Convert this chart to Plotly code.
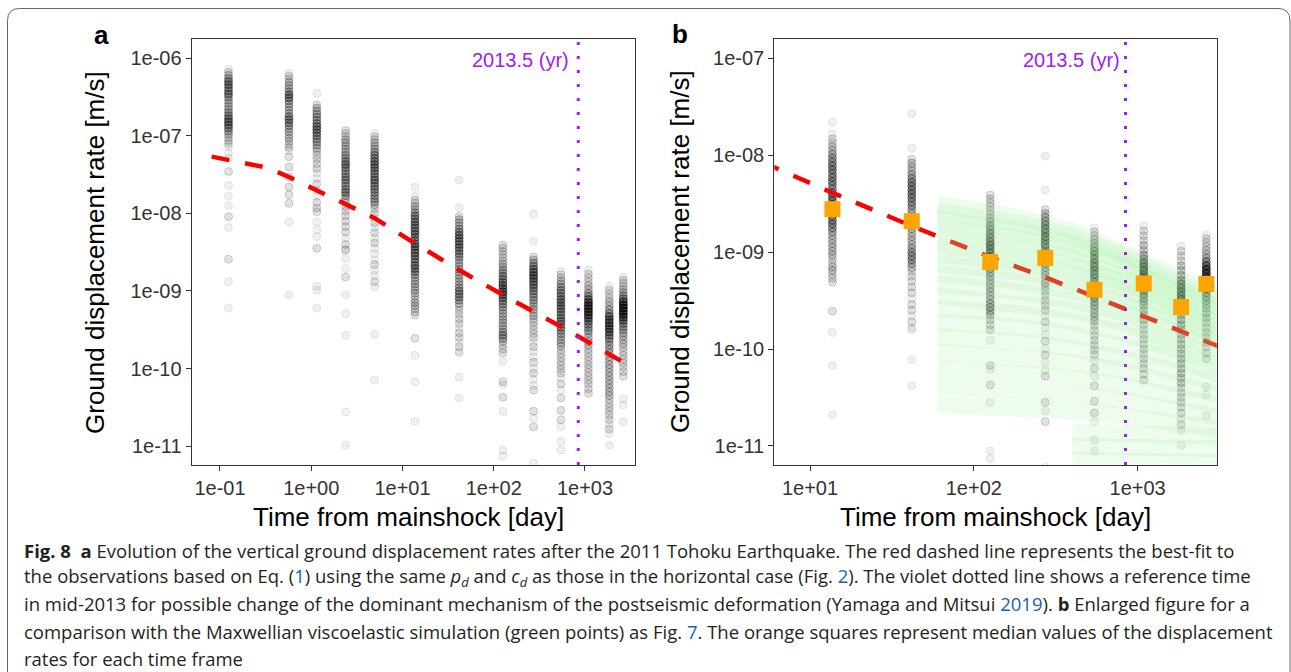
import math
import plotly.graph_objects as go

# ---------------- data ----------------
# time frames (days after mainshock) of the observation columns
col_times = [0.124, 0.57, 1.15, 2.38, 4.95, 13.7, 41.8, 126, 273, 545, 1090, 1845, 2628]

# each column: log10 rate levels [m/s] and how many stations overlap there
c01_log = [-6.14,-6.18,-6.22,-6.26,-6.30,-6.34,-6.38,-6.42,-6.46,-6.50,-6.54,-6.58,-6.62,-6.66,-6.70,-6.74,-6.78,-6.82,-6.86,-6.90,-6.94,-6.98,-7.02,-7.06,-7.10,-7.14,-7.22,-7.29,-7.46,-7.64,-7.78,-7.90,-8.04,-8.18,-8.59,-8.88,-9.22]
c01_n   = [1,2,3,4,6,6,5,5,6,4,3,3,3,3,4,5,6,7,6,5,4,3,2,2,2,1,1,1,2,1,1,1,2,1,2,1,1]
c02_log = [-6.19,-6.23,-6.27,-6.31,-6.35,-6.39,-6.43,-6.47,-6.51,-6.55,-6.59,-6.63,-6.67,-6.71,-6.75,-6.79,-6.83,-6.87,-6.91,-6.95,-6.99,-7.03,-7.07,-7.11,-7.15,-7.19,-7.27,-7.40,-7.53,-7.66,-7.76,-7.87,-8.11,-9.05]
c02_n   = [1,2,2,3,3,3,4,6,6,4,3,3,3,3,5,6,5,4,3,3,2,3,2,2,2,1,2,2,2,2,2,2,1,1]
c03_log = [-6.45,-6.60,-6.64,-6.68,-6.72,-6.76,-6.80,-6.84,-6.88,-6.92,-6.96,-7.00,-7.04,-7.08,-7.12,-7.16,-7.20,-7.25,-7.30,-7.36,-7.42,-7.48,-7.55,-7.62,-7.70,-7.78,-7.86,-7.93,-7.98,-8.11,-8.21,-8.30,-8.45,-8.94,-8.99,-9.22]
c03_n   = [1,2,3,3,4,4,4,5,6,6,5,5,4,4,3,3,2,2,2,2,2,1,1,2,1,1,2,2,2,1,1,1,2,1,1,1]
c04_log = [-6.93,-6.97,-7.01,-7.05,-7.09,-7.13,-7.17,-7.21,-7.25,-7.29,-7.33,-7.37,-7.41,-7.45,-7.49,-7.53,-7.57,-7.61,-7.65,-7.69,-7.73,-7.77,-7.81,-7.86,-7.91,-7.97,-8.03,-8.10,-8.17,-8.24,-8.32,-8.40,-8.47,-8.58,-8.71,-8.82,-9.05,-9.29,-9.57,-10.56,-10.99]
c04_n   = [2,2,2,3,3,3,3,3,4,4,5,6,5,4,4,5,5,4,4,5,5,4,3,2,2,2,2,2,2,2,1,2,3,1,1,2,1,1,1,1,1]
c05_log = [-6.97,-7.01,-7.05,-7.09,-7.13,-7.17,-7.21,-7.25,-7.29,-7.33,-7.37,-7.41,-7.45,-7.49,-7.53,-7.57,-7.61,-7.65,-7.69,-7.73,-7.77,-7.81,-7.85,-7.89,-7.94,-8.00,-8.06,-8.12,-8.18,-8.25,-8.32,-8.38,-8.45,-8.52,-8.60,-8.66,-8.73,-8.80,-8.88,-8.95,-9.56,-10.15]
c05_n   = [1,2,2,3,3,3,4,5,5,6,6,6,5,5,5,6,5,5,5,4,4,4,4,3,2,2,1,2,1,2,1,2,1,1,1,2,1,1,2,1,1,1]
c06_log = [-7.66,-7.78,-7.83,-7.87,-7.91,-7.95,-7.99,-8.03,-8.07,-8.11,-8.15,-8.19,-8.23,-8.27,-8.31,-8.35,-8.39,-8.43,-8.47,-8.51,-8.55,-8.59,-8.63,-8.67,-8.71,-8.75,-8.79,-8.83,-8.87,-8.91,-8.95,-8.99,-9.03,-9.07,-9.11,-9.15,-9.19,-9.23,-9.27,-9.31,-9.61,-9.83,-10.17,-10.68]
c06_n   = [1,1,2,2,3,3,4,5,5,6,6,5,6,6,5,5,6,7,6,6,6,5,5,6,6,5,4,3,3,3,3,3,3,2,2,3,3,2,2,2,2,1,1,1]
c07_log = [-7.57,-7.93,-8.04,-8.08,-8.12,-8.16,-8.20,-8.24,-8.28,-8.32,-8.36,-8.40,-8.44,-8.48,-8.52,-8.56,-8.60,-8.64,-8.68,-8.72,-8.76,-8.80,-8.84,-8.88,-8.92,-8.96,-9.00,-9.04,-9.08,-9.12,-9.16,-9.20,-9.25,-9.30,-9.36,-9.42,-9.48,-9.54,-9.60,-9.66,-9.72,-9.78,-9.80,-10.11,-10.38]
c07_n   = [1,1,2,3,3,3,4,5,6,6,6,6,6,5,5,4,3,3,3,3,3,3,3,3,3,4,5,5,5,4,3,2,2,2,2,2,1,2,2,1,2,1,1,1,1]
c08_log = [-8.41,-8.45,-8.49,-8.53,-8.57,-8.61,-8.65,-8.69,-8.73,-8.77,-8.81,-8.85,-8.89,-8.93,-8.97,-9.01,-9.05,-9.09,-9.13,-9.17,-9.21,-9.25,-9.29,-9.33,-9.37,-9.41,-9.45,-9.49,-9.53,-9.57,-9.61,-9.65,-9.70,-9.75,-9.80,-9.91,-10.17,-10.21,-10.37,-10.55,-11.05,-11.13]
c08_n   = [2,2,2,2,2,2,3,3,4,4,5,5,6,7,7,7,7,6,5,4,4,3,3,3,3,3,3,3,4,5,4,3,2,2,2,1,2,1,2,1,1,1]
c09_log = [-8.01,-8.36,-8.56,-8.60,-8.64,-8.68,-8.72,-8.76,-8.80,-8.84,-8.88,-8.92,-8.96,-9.00,-9.04,-9.08,-9.12,-9.16,-9.20,-9.24,-9.28,-9.32,-9.36,-9.40,-9.45,-9.50,-9.55,-9.60,-9.66,-9.72,-9.78,-9.85,-9.92,-10.00,-10.06,-10.14,-10.22,-10.28,-10.55,-10.64,-10.75,-11.22]
c09_n   = [1,1,2,3,4,5,6,7,7,7,6,6,5,5,4,4,4,3,3,3,2,3,2,2,2,2,2,2,1,2,1,1,2,1,2,1,1,2,2,1,2,1]
c10_log = [-8.75,-8.79,-8.83,-8.87,-8.91,-8.95,-8.99,-9.03,-9.07,-9.11,-9.15,-9.19,-9.23,-9.27,-9.31,-9.35,-9.39,-9.43,-9.47,-9.51,-9.55,-9.59,-9.63,-9.67,-9.71,-9.76,-9.81,-9.86,-9.91,-9.96,-10.01,-10.06,-10.12,-10.20,-10.28,-10.38,-10.54,-10.66,-10.75,-10.94,-11.05]
c10_n   = [1,2,2,3,3,4,5,5,5,6,6,6,6,5,5,5,6,5,5,4,4,3,3,3,3,2,2,2,2,2,2,2,1,2,1,2,2,2,1,1,1]
c11_log = [-8.73,-8.78,-8.83,-8.88,-8.93,-8.98,-9.03,-9.07,-9.11,-9.15,-9.19,-9.23,-9.27,-9.31,-9.35,-9.39,-9.43,-9.47,-9.51,-9.55,-9.60,-9.65,-9.70,-9.75,-9.80,-9.85,-9.90,-9.95,-10.00,-10.05,-10.10,-10.15,-10.20,-10.26,-10.32]
c11_n   = [1,2,2,2,3,3,4,5,7,9,10,10,10,9,8,6,5,4,4,3,3,3,3,2,2,2,2,2,2,2,2,2,2,2,2]
c12_log = [-8.94,-8.99,-9.04,-9.09,-9.14,-9.19,-9.24,-9.29,-9.33,-9.37,-9.41,-9.45,-9.49,-9.53,-9.57,-9.61,-9.65,-9.70,-9.75,-9.80,-9.85,-9.90,-9.95,-10.00,-10.05,-10.10,-10.15,-10.20,-10.25,-10.30,-10.35,-10.40,-10.45,-10.50,-10.55,-10.60,-10.66,-10.72,-10.78,-10.84,-10.99]
c12_n   = [1,2,2,2,3,3,4,5,7,8,8,8,8,7,6,5,4,4,4,3,3,3,3,3,3,3,3,3,3,3,3,2,2,2,2,2,2,1,2,1,1]
c13_log = [-8.82,-8.86,-8.90,-8.94,-8.98,-9.02,-9.06,-9.10,-9.14,-9.18,-9.22,-9.26,-9.30,-9.34,-9.38,-9.42,-9.46,-9.50,-9.54,-9.58,-9.63,-9.68,-9.73,-9.78,-9.83,-9.88,-9.93,-9.98,-10.04,-10.10,-10.39,-10.47,-10.69]
c13_n   = [1,2,2,2,3,3,4,6,9,11,11,11,10,9,7,5,4,4,3,3,3,3,2,2,2,2,2,2,2,2,1,1,1]

# median of each time frame (orange squares, panel b)
med_times = [13.7, 41.8, 126, 273, 545, 1090, 1845, 2628]
med_rates = [2.77e-9, 2.09e-9, 7.9e-10, 8.7e-10, 4.1e-10, 4.75e-10, 2.72e-10, 4.68e-10]

# best-fit curve (red dashed)
fit_t     = [0.081, 0.325, 0.57, 1.15, 2.38, 4.95, 13.7, 41.8, 126, 273, 545, 1090, 3450]
fit_rates = [5.4e-8, 3.9e-8, 2.95e-8, 2.0e-8, 1.29e-8, 8.7e-9, 4.1e-9, 1.86e-9, 8.9e-10, 5.5e-10, 3.47e-10, 2.19e-10, 1.0e-10]

# Maxwellian viscoelastic simulation (green), log10 rate of sample curves
sim_t = [60, 100, 200, 400, 800, 1500, 3100]
g01 = [-8.50, -8.55, -8.65, -8.78, -8.98, -9.20, -9.45]
g02 = [-8.58, -8.62, -8.71, -8.84, -9.03, -9.25, -9.51]
g03 = [-8.66, -8.70, -8.78, -8.91, -9.09, -9.31, -9.57]
g04 = [-8.75, -8.79, -8.86, -8.98, -9.16, -9.37, -9.63]
g05 = [-8.84, -8.88, -8.95, -9.06, -9.23, -9.43, -9.69]
g06 = [-8.93, -8.97, -9.04, -9.14, -9.30, -9.50, -9.75]
g07 = [-9.02, -9.06, -9.12, -9.22, -9.37, -9.56, -9.81]
g08 = [-9.12, -9.15, -9.21, -9.31, -9.45, -9.63, -9.87]
g09 = [-9.22, -9.25, -9.31, -9.40, -9.53, -9.71, -9.94]
g10 = [-9.33, -9.36, -9.41, -9.50, -9.62, -9.79, -10.01]
g11 = [-9.45, -9.48, -9.52, -9.60, -9.72, -9.88, -10.09]
g12 = [-9.58, -9.60, -9.64, -9.72, -9.83, -9.98, -10.17]
g13 = [-9.72, -9.74, -9.78, -9.85, -9.95, -10.08, -10.26]
g14 = [-9.87, -9.89, -9.93, -9.99, -10.08, -10.20, -10.36]
g15 = [-10.03, -10.05, -10.08, -10.14, -10.22, -10.33, -10.47]
g16 = [-10.20, -10.22, -10.25, -10.30, -10.37, -10.46, -10.58]
g17 = [-10.38, -10.40, -10.42, -10.47, -10.53, -10.60, -10.70]
g18 = [-10.57, -10.58, -10.60, -10.64, -10.69, -10.75, -10.82]
g19 = [None, None, None, -10.86, -10.87, -10.88, -10.90]
g20 = [None, None, None, -11.00, -11.01, -11.02, -11.03]
g21 = [None, None, None, -11.15, -11.15, -11.16, -11.17]

ref_day = 844          # 2013.5 (yr)
ytick_a = [1e-6, 1e-7, 1e-8, 1e-9, 1e-10, 1e-11]
ytick_a_txt = ["1e-06", "1e-07", "1e-08", "1e-09", "1e-10", "1e-11"]
ytick_b = [1e-7, 1e-8, 1e-9, 1e-10, 1e-11]
ytick_b_txt = ["1e-07", "1e-08", "1e-09", "1e-10", "1e-11"]
xtick_a = [0.1, 1, 10, 100, 1000]
xtick_a_txt = ["1e-01", "1e+00", "1e+01", "1e+02", "1e+03"]
xtick_b = [10, 100, 1000]
xtick_b_txt = ["1e+01", "1e+02", "1e+03"]

# ---------------- figure ----------------
W, H = 1291, 672
def px(x):
    return x / W
def py(y):
    return 1 - y / H

columns = [(c01_log, c01_n), (c02_log, c02_n), (c03_log, c03_n), (c04_log, c04_n),
           (c05_log, c05_n), (c06_log, c06_n), (c07_log, c07_n), (c08_log, c08_n),
           (c09_log, c09_n), (c10_log, c10_n), (c11_log, c11_n), (c12_log, c12_n),
           (c13_log, c13_n)]

def expand(tmin):
    xs, ys = [], []
    for t, (lv, nn) in zip(col_times, columns):
        if t < tmin:
            continue
        for v, n in zip(lv, nn):
            xs += [t] * n
            ys += [10 ** v] * n
    return xs, ys

gray = dict(size=8, color="rgba(0,0,0,0.06)", line=dict(color="rgba(0,0,0,0.08)", width=1))
red = dict(color="#FF0000", width=4.5, dash="18px,16px")

fig = go.Figure()
# panel a
xa, ya = expand(0)
fig.add_trace(go.Scatter(x=xa, y=ya, mode="markers", marker=gray, xaxis="x", yaxis="y",
                         hoverinfo="skip", showlegend=False))
fig.add_trace(go.Scatter(x=fit_t, y=fit_rates, mode="lines", line=red, xaxis="x", yaxis="y",
                         showlegend=False))

# panel b
xb, yb = expand(10)
fig.add_trace(go.Scatter(x=xb, y=yb, mode="markers", marker=gray, xaxis="x2", yaxis="y2",
                         hoverinfo="skip", showlegend=False))
fig.add_trace(go.Scatter(x=fit_t, y=fit_rates, mode="lines", line=red, xaxis="x2", yaxis="y2",
                         showlegend=False))
for g in [g01, g02, g03, g04, g05, g06, g07, g08, g09, g10, g11,
          g12, g13, g14, g15, g16, g17, g18, g19, g20, g21]:
    fig.add_trace(go.Scatter(x=sim_t, y=[None if v is None else 10 ** v for v in g],
                             mode="lines", line=dict(color="rgba(144,238,144,0.15)", width=17),
                             xaxis="x2", yaxis="y2", hoverinfo="skip", showlegend=False))
fig.add_trace(go.Scatter(x=med_times, y=med_rates, mode="markers",
                         marker=dict(symbol="square", size=16, color="#FFA500", line=dict(width=0)),
                         xaxis="x2", yaxis="y2", showlegend=False))

F = "Liberation Sans, Arial, sans-serif"
axis_common = dict(type="log", showgrid=False, zeroline=False, ticks="outside", ticklen=5,
                   tickwidth=1.2, tickcolor="#333333", showline=True, mirror=True,
                   linecolor="#333333", linewidth=1.2,
                   tickfont=dict(family=F, size=20, color="#333333"))

ytop, ybot = 39, 465
fig.update_layout(
    width=W, height=H, autosize=False,
    margin=dict(l=0, r=0, t=0, b=0),
    paper_bgcolor="white", plot_bgcolor="white",
    xaxis=dict(axis_common, domain=[px(191.7), px(635)], range=[-1.31, 3.548],
               tickvals=xtick_a, ticktext=xtick_a_txt, anchor="y"),
    yaxis=dict(axis_common, domain=[py(ybot), py(ytop)], range=[-11.244, -5.751],
               tickvals=ytick_a, ticktext=ytick_a_txt, anchor="x"),
    xaxis2=dict(axis_common, domain=[px(774.3), px(1216.7)], range=[0.782, 3.483],
                tickvals=xtick_b, ticktext=xtick_b_txt, anchor="y2"),
    yaxis2=dict(axis_common, domain=[py(ybot), py(ytop)], range=[-11.197, -6.80],
                tickvals=ytick_b, ticktext=ytick_b_txt, anchor="x2"),
)

purple = "#A020F0"
for xr in ["x", "x2"]:
    fig.add_shape(type="line", xref=xr, yref=xr.replace("x", "y") + " domain",
                  x0=ref_day, x1=ref_day, y0=0, y1=1,
                  line=dict(color=purple, width=3, dash="3px,11px"), layer="above")

# rounded frame
x0, x1, yt, r = 7.5, 1290, 8.5, 12
path = (f"M {px(x0)},{py(H + 5)} L {px(x0)},{py(yt + r)} "
        f"Q {px(x0)},{py(yt)} {px(x0 + r)},{py(yt)} L {px(x1 - r)},{py(yt)} "
        f"Q {px(x1)},{py(yt)} {px(x1)},{py(yt + r)} L {px(x1)},{py(H + 5)}")
fig.add_shape(type="path", xref="paper", yref="paper", path=path,
              line=dict(color="#666666", width=1))

ann = []
# reference-time labels (annotation x on a log axis is given in log10 units)
for xr, xs in [("x", -7), ("x2", -4)]:
    ann.append(dict(x=math.log10(ref_day), xref=xr, y=0.951, yref=xr.replace("x", "y") + " domain",
                    text="2013.5 (yr)", showarrow=False,
                    xanchor="right", yanchor="middle", xshift=xs,
                    font=dict(family=F, size=20, color=purple)))

def label(x, y, text, size, angle=0):
    return dict(x=px(x), y=py(y), xref="paper", yref="paper", text=text, textangle=angle,
                showarrow=False, xanchor="center", yanchor="middle",
                font=dict(family=F, size=size, color="black"))

ann += [
    label(95, 252, "Ground displacement rate [m/s]", 26, -90),
    label(680, 252, "Ground displacement rate [m/s]", 26, -90),
    label(408, 517, "Time from mainshock [day]", 26),
    label(995, 517, "Time from mainshock [day]", 26),
    label(101, 35, "<b>a</b>", 26),
    label(680, 34, "<b>b</b>", 26),
]

blue = "#1a5fb4"
def link(s):
    return f"<span style='color:{blue}'>{s}</span>"

cap_lines = [
    "<b>Fig. 8</b>\u00a0 <b>a</b> Evolution of the vertical ground displacement rates after the 2011 Tohoku Earthquake. The red dashed line represents the best-fit to",
    f"the observations based on Eq. ({link('1')}) using the same <i>p</i><sub><i>d</i></sub> and <i>c</i><sub><i>d</i></sub> as those in the horizontal case (Fig. {link('2')}). The violet dotted line shows a reference time",
    f"in mid-2013 for possible change of the dominant mechanism of the postseismic deformation (Yamaga and Mitsui {link('2019')}). <b>b</b> Enlarged figure for a",
    f"comparison with the Maxwellian viscoelastic simulation (green points) as Fig. {link('7')}. The orange squares represent median values of the displacement",
    "rates for each time frame",
]
cap_y = [550, 577, 603, 631, 658]
CF = "Open Sans, Noto Sans, sans-serif"
for txt, yy in zip(cap_lines, cap_y):
    ann.append(dict(x=px(22), y=py(yy), xref="paper", yref="paper", text=txt, showarrow=False,
                    xanchor="left", yanchor="middle", align="left",
                    font=dict(family=CF, size=18.5, color="#231f20")))

fig.update_layout(annotations=ann)
fig.write_html("out.html")
